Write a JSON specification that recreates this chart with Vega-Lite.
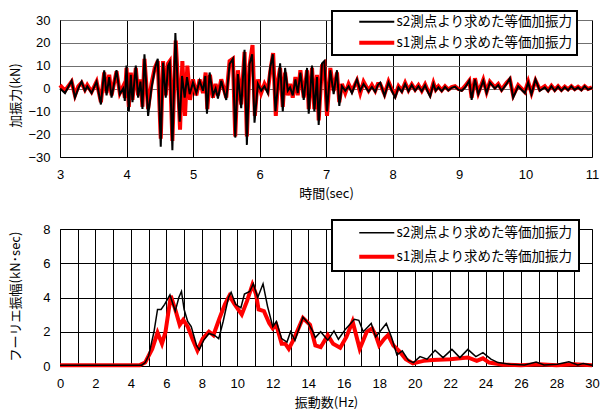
{
"$schema":"https://vega.github.io/schema/vega-lite/v6.json",
"padding":{"left":8,"top":9,"right":0,"bottom":0},
"background":"white",
"spacing":72,
"bounds":"flush",
"resolve":{"scale":{"color":"independent","x":"independent","y":"independent"},"legend":{"color":"independent"}},
"datasets":{
"top":[
{"s":"s2","t":3,"v":0},{"s":"s2","t":3.075,"v":-2},{"s":"s2","t":3.175,"v":3.4},{"s":"s2","t":3.225,"v":-4},{"s":"s2","t":3.275,"v":0},{"s":"s2","t":3.325,"v":3},{"s":"s2","t":3.375,"v":-1},{"s":"s2","t":3.41,"v":1},{"s":"s2","t":3.475,"v":-2},{"s":"s2","t":3.55,"v":3},{"s":"s2","t":3.615,"v":-7},{"s":"s2","t":3.665,"v":8},{"s":"s2","t":3.7,"v":-3},{"s":"s2","t":3.74,"v":5},{"s":"s2","t":3.775,"v":-4},{"s":"s2","t":3.85,"v":8},{"s":"s2","t":3.9,"v":-2.5},{"s":"s2","t":3.95,"v":0},{"s":"s2","t":3.975,"v":-5.4},{"s":"s2","t":4,"v":10},{"s":"s2","t":4.035,"v":-10},{"s":"s2","t":4.065,"v":6},{"s":"s2","t":4.09,"v":-6},{"s":"s2","t":4.14,"v":10},{"s":"s2","t":4.175,"v":-4},{"s":"s2","t":4.21,"v":3},{"s":"s2","t":4.24,"v":-9},{"s":"s2","t":4.27,"v":15},{"s":"s2","t":4.325,"v":-12},{"s":"s2","t":4.375,"v":0},{"s":"s2","t":4.425,"v":8.5},{"s":"s2","t":4.47,"v":13},{"s":"s2","t":4.515,"v":-25.5},{"s":"s2","t":4.55,"v":11.4},{"s":"s2","t":4.59,"v":-4},{"s":"s2","t":4.625,"v":10},{"s":"s2","t":4.65,"v":11.4},{"s":"s2","t":4.69,"v":-27},{"s":"s2","t":4.735,"v":24.3},{"s":"s2","t":4.775,"v":-2.5},{"s":"s2","t":4.8,"v":-14.5},{"s":"s2","t":4.835,"v":5.5},{"s":"s2","t":4.875,"v":-4},{"s":"s2","t":4.91,"v":5},{"s":"s2","t":4.95,"v":-2.5},{"s":"s2","t":5,"v":2.6},{"s":"s2","t":5.05,"v":-2},{"s":"s2","t":5.1,"v":3.4},{"s":"s2","t":5.15,"v":-1},{"s":"s2","t":5.185,"v":5.5},{"s":"s2","t":5.21,"v":-11},{"s":"s2","t":5.25,"v":7},{"s":"s2","t":5.3,"v":-3},{"s":"s2","t":5.34,"v":0},{"s":"s2","t":5.375,"v":-4.4},{"s":"s2","t":5.425,"v":3.4},{"s":"s2","t":5.5,"v":-5},{"s":"s2","t":5.55,"v":10.7},{"s":"s2","t":5.6,"v":13},{"s":"s2","t":5.635,"v":-21.5},{"s":"s2","t":5.675,"v":6.3},{"s":"s2","t":5.725,"v":-8.6},{"s":"s2","t":5.775,"v":17},{"s":"s2","t":5.81,"v":-24.7},{"s":"s2","t":5.85,"v":10.7},{"s":"s2","t":5.89,"v":15},{"s":"s2","t":5.925,"v":-15},{"s":"s2","t":5.975,"v":2},{"s":"s2","t":6.025,"v":-1},{"s":"s2","t":6.075,"v":1},{"s":"s2","t":6.125,"v":-2},{"s":"s2","t":6.16,"v":9},{"s":"s2","t":6.2,"v":15},{"s":"s2","t":6.24,"v":-10},{"s":"s2","t":6.28,"v":2},{"s":"s2","t":6.31,"v":11},{"s":"s2","t":6.35,"v":-10},{"s":"s2","t":6.385,"v":9},{"s":"s2","t":6.425,"v":-1},{"s":"s2","t":6.46,"v":0.5},{"s":"s2","t":6.5,"v":-3},{"s":"s2","t":6.54,"v":4},{"s":"s2","t":6.575,"v":-2},{"s":"s2","t":6.615,"v":7},{"s":"s2","t":6.665,"v":-5},{"s":"s2","t":6.715,"v":9},{"s":"s2","t":6.74,"v":-11},{"s":"s2","t":6.79,"v":10},{"s":"s2","t":6.825,"v":-10},{"s":"s2","t":6.865,"v":5},{"s":"s2","t":6.89,"v":-16},{"s":"s2","t":6.94,"v":11},{"s":"s2","t":6.975,"v":12},{"s":"s2","t":7.015,"v":-10},{"s":"s2","t":7.065,"v":8},{"s":"s2","t":7.115,"v":-2.5},{"s":"s2","t":7.165,"v":8},{"s":"s2","t":7.2,"v":-7.6},{"s":"s2","t":7.24,"v":1},{"s":"s2","t":7.29,"v":-1},{"s":"s2","t":7.34,"v":1},{"s":"s2","t":7.39,"v":-2},{"s":"s2","t":7.465,"v":4},{"s":"s2","t":7.515,"v":-1},{"s":"s2","t":7.565,"v":2},{"s":"s2","t":7.64,"v":-1.3},{"s":"s2","t":7.69,"v":0.7},{"s":"s2","t":7.74,"v":-1.5},{"s":"s2","t":7.78,"v":1.5},{"s":"s2","t":7.815,"v":2.6},{"s":"s2","t":7.88,"v":-3.2},{"s":"s2","t":7.94,"v":2.6},{"s":"s2","t":7.99,"v":-1},{"s":"s2","t":8.04,"v":-4},{"s":"s2","t":8.09,"v":0.5},{"s":"s2","t":8.14,"v":-1.5},{"s":"s2","t":8.19,"v":2},{"s":"s2","t":8.24,"v":-1.2},{"s":"s2","t":8.29,"v":1.5},{"s":"s2","t":8.34,"v":-1},{"s":"s2","t":8.39,"v":1},{"s":"s2","t":8.44,"v":-1.2},{"s":"s2","t":8.49,"v":1.4},{"s":"s2","t":8.525,"v":-1},{"s":"s2","t":8.565,"v":-3.5},{"s":"s2","t":8.615,"v":2},{"s":"s2","t":8.65,"v":-1},{"s":"s2","t":8.69,"v":0.5},{"s":"s2","t":8.74,"v":-1.2},{"s":"s2","t":8.79,"v":0.7},{"s":"s2","t":8.84,"v":-0.8},{"s":"s2","t":8.89,"v":0.3},{"s":"s2","t":8.94,"v":0.8},{"s":"s2","t":8.99,"v":-0.5},{"s":"s2","t":9.04,"v":-1},{"s":"s2","t":9.09,"v":0.4},{"s":"s2","t":9.155,"v":3.4},{"s":"s2","t":9.19,"v":-5},{"s":"s2","t":9.24,"v":4},{"s":"s2","t":9.29,"v":-2.5},{"s":"s2","t":9.365,"v":3.4},{"s":"s2","t":9.415,"v":-2},{"s":"s2","t":9.465,"v":2.6},{"s":"s2","t":9.54,"v":0},{"s":"s2","t":9.59,"v":1.5},{"s":"s2","t":9.64,"v":-1},{"s":"s2","t":9.715,"v":2},{"s":"s2","t":9.765,"v":4.5},{"s":"s2","t":9.815,"v":-4},{"s":"s2","t":9.89,"v":1},{"s":"s2","t":9.99,"v":-2},{"s":"s2","t":10.04,"v":2.6},{"s":"s2","t":10.09,"v":-2.5},{"s":"s2","t":10.15,"v":4},{"s":"s2","t":10.215,"v":-1},{"s":"s2","t":10.29,"v":0.5},{"s":"s2","t":10.34,"v":-1.2},{"s":"s2","t":10.39,"v":1},{"s":"s2","t":10.44,"v":-1},{"s":"s2","t":10.49,"v":0.8},{"s":"s2","t":10.54,"v":-1},{"s":"s2","t":10.59,"v":0.6},{"s":"s2","t":10.64,"v":-0.8},{"s":"s2","t":10.69,"v":1},{"s":"s2","t":10.74,"v":-0.6},{"s":"s2","t":10.79,"v":0.5},{"s":"s2","t":10.84,"v":-0.8},{"s":"s2","t":10.89,"v":1},{"s":"s2","t":10.94,"v":-0.5},{"s":"s2","t":11,"v":0.3},
{"s":"s1","t":3,"v":1.5},{"s":"s1","t":3.075,"v":-1},{"s":"s1","t":3.175,"v":3},{"s":"s1","t":3.225,"v":-3},{"s":"s1","t":3.275,"v":1},{"s":"s1","t":3.325,"v":2.5},{"s":"s1","t":3.375,"v":-0.5},{"s":"s1","t":3.41,"v":1.5},{"s":"s1","t":3.475,"v":-1.5},{"s":"s1","t":3.55,"v":3},{"s":"s1","t":3.615,"v":-6},{"s":"s1","t":3.665,"v":7},{"s":"s1","t":3.7,"v":-2},{"s":"s1","t":3.74,"v":6},{"s":"s1","t":3.775,"v":-3},{"s":"s1","t":3.85,"v":7.5},{"s":"s1","t":3.9,"v":-2},{"s":"s1","t":3.95,"v":1},{"s":"s1","t":3.975,"v":-4},{"s":"s1","t":4,"v":9},{"s":"s1","t":4.035,"v":-8},{"s":"s1","t":4.065,"v":7},{"s":"s1","t":4.09,"v":-5},{"s":"s1","t":4.14,"v":9},{"s":"s1","t":4.175,"v":-3},{"s":"s1","t":4.21,"v":4},{"s":"s1","t":4.24,"v":-8},{"s":"s1","t":4.27,"v":13},{"s":"s1","t":4.325,"v":-9},{"s":"s1","t":4.375,"v":2},{"s":"s1","t":4.425,"v":9},{"s":"s1","t":4.47,"v":12},{"s":"s1","t":4.515,"v":-22},{"s":"s1","t":4.55,"v":12},{"s":"s1","t":4.59,"v":-3},{"s":"s1","t":4.625,"v":11},{"s":"s1","t":4.65,"v":12},{"s":"s1","t":4.69,"v":-23},{"s":"s1","t":4.74,"v":21},{"s":"s1","t":4.78,"v":-1},{"s":"s1","t":4.805,"v":-18},{"s":"s1","t":4.84,"v":12},{"s":"s1","t":4.88,"v":-12},{"s":"s1","t":4.915,"v":10},{"s":"s1","t":4.955,"v":-5},{"s":"s1","t":5,"v":4},{"s":"s1","t":5.05,"v":-3},{"s":"s1","t":5.1,"v":4},{"s":"s1","t":5.15,"v":-2},{"s":"s1","t":5.19,"v":7},{"s":"s1","t":5.215,"v":-9},{"s":"s1","t":5.255,"v":6},{"s":"s1","t":5.3,"v":-4},{"s":"s1","t":5.34,"v":2},{"s":"s1","t":5.375,"v":-3},{"s":"s1","t":5.425,"v":4},{"s":"s1","t":5.5,"v":-4},{"s":"s1","t":5.55,"v":12},{"s":"s1","t":5.6,"v":13},{"s":"s1","t":5.635,"v":-21},{"s":"s1","t":5.675,"v":8},{"s":"s1","t":5.725,"v":-7},{"s":"s1","t":5.775,"v":16},{"s":"s1","t":5.81,"v":-21},{"s":"s1","t":5.85,"v":10},{"s":"s1","t":5.895,"v":19},{"s":"s1","t":5.93,"v":-12},{"s":"s1","t":5.975,"v":4},{"s":"s1","t":6.025,"v":-2},{"s":"s1","t":6.075,"v":2},{"s":"s1","t":6.125,"v":-1},{"s":"s1","t":6.16,"v":7},{"s":"s1","t":6.205,"v":15.5},{"s":"s1","t":6.245,"v":-12},{"s":"s1","t":6.28,"v":4},{"s":"s1","t":6.31,"v":9},{"s":"s1","t":6.35,"v":-8},{"s":"s1","t":6.385,"v":7},{"s":"s1","t":6.425,"v":-3},{"s":"s1","t":6.46,"v":2},{"s":"s1","t":6.5,"v":-4},{"s":"s1","t":6.54,"v":5},{"s":"s1","t":6.575,"v":-3},{"s":"s1","t":6.615,"v":8},{"s":"s1","t":6.665,"v":-4},{"s":"s1","t":6.715,"v":8},{"s":"s1","t":6.74,"v":-9},{"s":"s1","t":6.79,"v":9},{"s":"s1","t":6.825,"v":-9},{"s":"s1","t":6.865,"v":6},{"s":"s1","t":6.89,"v":-14},{"s":"s1","t":6.94,"v":10},{"s":"s1","t":6.975,"v":11},{"s":"s1","t":7.015,"v":-12},{"s":"s1","t":7.065,"v":9},{"s":"s1","t":7.115,"v":-1},{"s":"s1","t":7.165,"v":7},{"s":"s1","t":7.2,"v":-6},{"s":"s1","t":7.24,"v":2},{"s":"s1","t":7.29,"v":-2},{"s":"s1","t":7.34,"v":2},{"s":"s1","t":7.39,"v":-1},{"s":"s1","t":7.465,"v":3.5},{"s":"s1","t":7.515,"v":-2},{"s":"s1","t":7.565,"v":3},{"s":"s1","t":7.64,"v":-1},{"s":"s1","t":7.69,"v":1.5},{"s":"s1","t":7.74,"v":-1},{"s":"s1","t":7.78,"v":2},{"s":"s1","t":7.815,"v":2},{"s":"s1","t":7.88,"v":-2.5},{"s":"s1","t":7.94,"v":3},{"s":"s1","t":7.99,"v":-0.5},{"s":"s1","t":8.04,"v":-3},{"s":"s1","t":8.09,"v":1},{"s":"s1","t":8.14,"v":-1},{"s":"s1","t":8.19,"v":2.5},{"s":"s1","t":8.24,"v":-0.8},{"s":"s1","t":8.29,"v":1.8},{"s":"s1","t":8.34,"v":-0.5},{"s":"s1","t":8.39,"v":1.5},{"s":"s1","t":8.44,"v":-1},{"s":"s1","t":8.49,"v":1.8},{"s":"s1","t":8.525,"v":-0.5},{"s":"s1","t":8.565,"v":-2.5},{"s":"s1","t":8.615,"v":2.5},{"s":"s1","t":8.65,"v":-0.5},{"s":"s1","t":8.69,"v":1},{"s":"s1","t":8.74,"v":-0.8},{"s":"s1","t":8.79,"v":1},{"s":"s1","t":8.84,"v":-0.5},{"s":"s1","t":8.89,"v":0.6},{"s":"s1","t":8.94,"v":1},{"s":"s1","t":8.99,"v":-0.2},{"s":"s1","t":9.04,"v":-0.6},{"s":"s1","t":9.09,"v":1},{"s":"s1","t":9.155,"v":3.5},{"s":"s1","t":9.19,"v":-4},{"s":"s1","t":9.24,"v":4.5},{"s":"s1","t":9.29,"v":-2},{"s":"s1","t":9.365,"v":3.8},{"s":"s1","t":9.415,"v":-1.5},{"s":"s1","t":9.465,"v":3},{"s":"s1","t":9.54,"v":0.5},{"s":"s1","t":9.59,"v":2},{"s":"s1","t":9.64,"v":-0.5},{"s":"s1","t":9.715,"v":2.5},{"s":"s1","t":9.765,"v":4},{"s":"s1","t":9.815,"v":-3},{"s":"s1","t":9.89,"v":1.5},{"s":"s1","t":9.99,"v":-1.5},{"s":"s1","t":10.04,"v":3},{"s":"s1","t":10.09,"v":-2},{"s":"s1","t":10.15,"v":3.5},{"s":"s1","t":10.215,"v":-0.5},{"s":"s1","t":10.29,"v":1},{"s":"s1","t":10.34,"v":-0.8},{"s":"s1","t":10.39,"v":1.2},{"s":"s1","t":10.44,"v":-0.6},{"s":"s1","t":10.49,"v":1},{"s":"s1","t":10.54,"v":-0.6},{"s":"s1","t":10.59,"v":0.8},{"s":"s1","t":10.64,"v":-0.4},{"s":"s1","t":10.69,"v":1},{"s":"s1","t":10.74,"v":-0.3},{"s":"s1","t":10.79,"v":0.8},{"s":"s1","t":10.84,"v":-0.4},{"s":"s1","t":10.89,"v":1},{"s":"s1","t":10.94,"v":-0.2},{"s":"s1","t":11,"v":0.5}
],
"sp":[
{"s":"s2","f":0,"a":0.05},{"s":"s2","f":4.6,"a":0.05},{"s":"s2","f":4.8,"a":0.2},{"s":"s2","f":5.0,"a":0.6},{"s":"s2","f":5.3,"a":2.0},{"s":"s2","f":5.5,"a":3.3},{"s":"s2","f":5.7,"a":3.3},{"s":"s2","f":5.9,"a":3.6},{"s":"s2","f":6.2,"a":4.15},{"s":"s2","f":6.5,"a":3.2},{"s":"s2","f":6.7,"a":4.0},{"s":"s2","f":6.85,"a":4.35},{"s":"s2","f":7.0,"a":3.3},{"s":"s2","f":7.2,"a":2.6},{"s":"s2","f":7.4,"a":2.3},{"s":"s2","f":7.7,"a":1.2},{"s":"s2","f":7.85,"a":0.95},{"s":"s2","f":8.1,"a":1.5},{"s":"s2","f":8.4,"a":1.9},{"s":"s2","f":8.7,"a":1.8},{"s":"s2","f":8.95,"a":1.6},{"s":"s2","f":9.2,"a":2.6},{"s":"s2","f":9.5,"a":4.0},{"s":"s2","f":9.65,"a":4.3},{"s":"s2","f":9.9,"a":3.6},{"s":"s2","f":10.2,"a":3.4},{"s":"s2","f":10.4,"a":4.2},{"s":"s2","f":10.7,"a":4.35},{"s":"s2","f":10.9,"a":4.8},{"s":"s2","f":11.15,"a":4.0},{"s":"s2","f":11.45,"a":4.8},{"s":"s2","f":11.7,"a":3.5},{"s":"s2","f":12.0,"a":2.3},{"s":"s2","f":12.2,"a":2.6},{"s":"s2","f":12.5,"a":1.6},{"s":"s2","f":12.8,"a":1.4},{"s":"s2","f":13.0,"a":2.0},{"s":"s2","f":13.25,"a":1.5},{"s":"s2","f":13.7,"a":2.85},{"s":"s2","f":14.0,"a":2.5},{"s":"s2","f":14.24,"a":2.05},{"s":"s2","f":14.4,"a":1.66},{"s":"s2","f":14.7,"a":2.0},{"s":"s2","f":15.1,"a":1.5},{"s":"s2","f":15.45,"a":2.05},{"s":"s2","f":15.7,"a":1.56},{"s":"s2","f":16.1,"a":2.15},{"s":"s2","f":16.6,"a":2.73},{"s":"s2","f":16.85,"a":2.67},{"s":"s2","f":17.1,"a":2.0},{"s":"s2","f":17.55,"a":2.48},{"s":"s2","f":17.8,"a":1.7},{"s":"s2","f":18.4,"a":2.48},{"s":"s2","f":18.7,"a":1.66},{"s":"s2","f":19.0,"a":0.64},{"s":"s2","f":19.3,"a":0.88},{"s":"s2","f":19.65,"a":0.33},{"s":"s2","f":19.93,"a":0.2},{"s":"s2","f":20.3,"a":0.55},{"s":"s2","f":20.7,"a":0.4},{"s":"s2","f":21.15,"a":0.92},{"s":"s2","f":21.6,"a":0.49},{"s":"s2","f":22.1,"a":0.97},{"s":"s2","f":22.55,"a":0.49},{"s":"s2","f":23.0,"a":0.97},{"s":"s2","f":23.45,"a":0.55},{"s":"s2","f":23.85,"a":0.78},{"s":"s2","f":24.3,"a":0.4},{"s":"s2","f":24.7,"a":0.2},{"s":"s2","f":25.4,"a":0.1},{"s":"s2","f":26.2,"a":0.06},{"s":"s2","f":26.85,"a":0.23},{"s":"s2","f":27.3,"a":0.06},{"s":"s2","f":28.05,"a":0.1},{"s":"s2","f":28.7,"a":0.25},{"s":"s2","f":29.2,"a":0.06},{"s":"s2","f":29.5,"a":0.14},{"s":"s2","f":30,"a":0.04},
{"s":"s1","f":0,"a":0.05},{"s":"s1","f":4.5,"a":0.05},{"s":"s1","f":4.8,"a":0.2},{"s":"s1","f":5.0,"a":0.6},{"s":"s1","f":5.2,"a":1.0},{"s":"s1","f":5.5,"a":1.95},{"s":"s1","f":5.75,"a":1.3},{"s":"s1","f":5.95,"a":2.0},{"s":"s1","f":6.25,"a":4.1},{"s":"s1","f":6.5,"a":3.3},{"s":"s1","f":6.75,"a":2.4},{"s":"s1","f":6.95,"a":2.7},{"s":"s1","f":7.2,"a":2.3},{"s":"s1","f":7.5,"a":1.5},{"s":"s1","f":7.75,"a":0.9},{"s":"s1","f":8.05,"a":1.6},{"s":"s1","f":8.4,"a":2.0},{"s":"s1","f":8.65,"a":1.8},{"s":"s1","f":9.0,"a":2.8},{"s":"s1","f":9.3,"a":3.6},{"s":"s1","f":9.55,"a":4.1},{"s":"s1","f":9.85,"a":3.6},{"s":"s1","f":10.25,"a":3.0},{"s":"s1","f":10.55,"a":3.8},{"s":"s1","f":10.85,"a":4.75},{"s":"s1","f":11.05,"a":4.2},{"s":"s1","f":11.2,"a":3.3},{"s":"s1","f":11.5,"a":3.2},{"s":"s1","f":11.8,"a":2.5},{"s":"s1","f":12.0,"a":2.2},{"s":"s1","f":12.2,"a":2.4},{"s":"s1","f":12.5,"a":1.3},{"s":"s1","f":12.7,"a":1.3},{"s":"s1","f":12.9,"a":1.0},{"s":"s1","f":13.2,"a":1.6},{"s":"s1","f":13.7,"a":2.8},{"s":"s1","f":14.1,"a":2.4},{"s":"s1","f":14.4,"a":1.2},{"s":"s1","f":14.7,"a":1.1},{"s":"s1","f":15.1,"a":1.8},{"s":"s1","f":15.4,"a":1.3},{"s":"s1","f":15.8,"a":1.07},{"s":"s1","f":16.15,"a":1.7},{"s":"s1","f":16.5,"a":2.6},{"s":"s1","f":16.9,"a":1.0},{"s":"s1","f":17.3,"a":2.0},{"s":"s1","f":17.6,"a":2.2},{"s":"s1","f":17.8,"a":1.8},{"s":"s1","f":18.0,"a":1.2},{"s":"s1","f":18.3,"a":1.6},{"s":"s1","f":18.5,"a":1.8},{"s":"s1","f":18.8,"a":1.2},{"s":"s1","f":19.1,"a":0.9},{"s":"s1","f":19.5,"a":0.4},{"s":"s1","f":19.9,"a":0.15},{"s":"s1","f":20.5,"a":0.3},{"s":"s1","f":21,"a":0.35},{"s":"s1","f":22,"a":0.4},{"s":"s1","f":23,"a":0.5},{"s":"s1","f":23.5,"a":0.3},{"s":"s1","f":23.85,"a":0.45},{"s":"s1","f":24.2,"a":0.2},{"s":"s1","f":25,"a":0.08},{"s":"s1","f":26,"a":0.05},{"s":"s1","f":27,"a":0.1},{"s":"s1","f":28,"a":0.05},{"s":"s1","f":29,"a":0.1},{"s":"s1","f":30,"a":0.05}
]},
"vconcat":[
{
"width":532,"height":137,
"data":{"name":"top"},
"encoding":{
"x":{"field":"t","type":"quantitative","scale":{"domain":[3,11],"nice":false,"zero":false},"axis":{"title":"時間(sec)","values":[3,4,5,6,7,8,9,10,11],"gridColor":"#000000"}},
"y":{"field":"v","type":"quantitative","scale":{"domain":[-30,30],"nice":false},"axis":{"title":"加振力(kN)","values":[-30,-20,-10,0,10,20,30],"gridColor":"#707070","titleY":75}},
"color":{"field":"s","type":"nominal","scale":{"domain":["s2","s1"],"range":["#000000","#ff0000"]},
"legend":{"orient":"none","legendX":272,"legendY":-9,"title":null,"padding":4,"rowPadding":5,
"labelExpr":"datum.value == 's2' ? 's2測点より求めた等価加振力\u3000' : 's1測点より求めた等価加振力\u3000'",
"symbolType":"M-3.5,0H3.5","symbolSize":100,"symbolOffset":34,"labelOffset":13,
"encode":{"symbols":{"update":{"strokeWidth":{"signal":"datum.value == 's1' ? 4 : 2"}}}}}}
},
"layer":[
{"transform":[{"filter":"datum.s == 's1'"}],"mark":{"type":"line","strokeWidth":4}},
{"transform":[{"filter":"datum.s == 's2'"}],"mark":{"type":"line","strokeWidth":2}}
]
},
{
"width":532,"height":137,
"data":{"name":"sp"},
"encoding":{
"x":{"field":"f","type":"quantitative","scale":{"domain":[0,30],"nice":false},"axis":{"title":"振動数(Hz)","values":[0,1,2,3,4,5,6,7,8,9,10,11,12,13,14,15,16,17,18,19,20,21,22,23,24,25,26,27,28,29,30],"labelExpr":"datum.value % 2 == 0 ? datum.label : ''","gridColor":"#000000"}},
"y":{"field":"a","type":"quantitative","scale":{"domain":[0,8],"nice":false},"axis":{"title":"フーリエ振幅(kN･sec)","values":[0,2,4,6,8],"gridColor":"#000000","titleY":67}},
"color":{"field":"s","type":"nominal","scale":{"domain":["s2","s1"],"range":["#000000","#ff0000"]},
"legend":{"orient":"none","legendX":272,"legendY":-9,"title":null,"padding":6,"rowPadding":8,
"labelExpr":"datum.value == 's2' ? 's2測点より求めた等価加振力\u3000' : 's1測点より求めた等価加振力\u3000'",
"symbolType":"M-3.5,0H3.5","symbolSize":100,"symbolOffset":32,"labelOffset":13,
"encode":{"symbols":{"update":{"strokeWidth":{"signal":"datum.value == 's1' ? 4 : 1.5"}}}}}}
},
"layer":[
{"transform":[{"filter":"datum.s == 's1'"}],"mark":{"type":"line","strokeWidth":4}},
{"transform":[{"filter":"datum.s == 's2'"}],"mark":{"type":"line","strokeWidth":1.5}}
]
}
],
"config":{
"view":{"stroke":"#808080","strokeWidth":1},
"axis":{"domainColor":"#000000","domainWidth":1,"ticks":false,"tickSize":0,"labelFont":"Liberation Sans","labelFontSize":13,"labelColor":"#000000","titleFont":"Noto Sans CJK JP","titleFontSize":13,"titleFontWeight":"normal","titleColor":"#000000","gridOpacity":1,"gridWidth":1,"labelFlush":false,"labelOverlap":false},
"axisX":{"labelPadding":11,"titlePadding":6},
"axisY":{"labelPadding":10,"titleX":-45,"titleBaseline":"middle","titleAngle":-90},
"legend":{"strokeColor":"#000000","strokeWidth":2,"fillColor":"#ffffff","labelFont":"Noto Sans CJK JP","labelFontSize":13.5,"labelFontWeight":"normal","labelColor":"#000000","labelLimit":400}
}
}
